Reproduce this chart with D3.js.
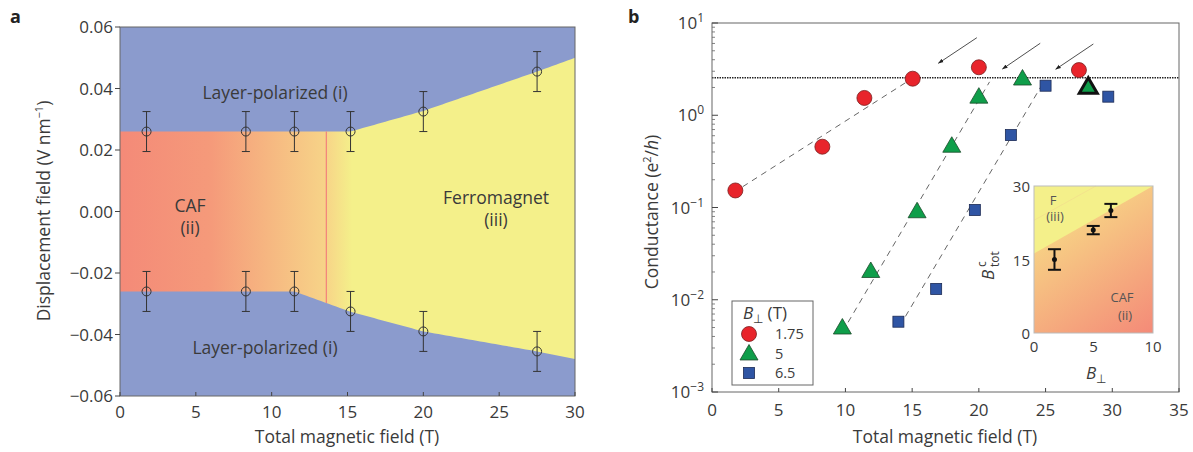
<!DOCTYPE html>
<html>
<head>
<meta charset="utf-8">
<script src="https://cdn.jsdelivr.net/npm/d3@7"></script>
<style>
  body { margin: 0; background: #fff; }
  svg text { font-family: "Open Sans", "Noto Sans", sans-serif; fill: #3a3a3a; }
</style>
</head>
<body>
<svg id="fig" width="1193" height="452"></svg>
<script>
// ---- panel a data
var aField    = [1.75, 8.3, 11.5, 15.2, 20, 27.5];
var aUpper    = [0.026, 0.026, 0.026, 0.026, 0.0325, 0.0455];
var aLower    = [-0.026, -0.026, -0.026, -0.0325, -0.039, -0.0455];
var aErr      = [0.0065, 0.0065, 0.0065, 0.0065, 0.0065, 0.0065];
var topBoundB = [0, 15.2, 20, 27.5, 30];
var topBoundD = [0.026, 0.026, 0.0327, 0.0455, 0.050];
var lowBoundB = [0, 11.5, 15.2, 20, 27.5, 30];
var lowBoundD = [-0.026, -0.026, -0.0326, -0.039, -0.0455, -0.048];
var cafEdge   = 13.6;
var aXTicks   = [0, 5, 10, 15, 20, 25, 30];
var aYTicks   = [-0.06, -0.04, -0.02, 0, 0.02, 0.04, 0.06];

// ---- panel b data
var seriesNames = ["1.75", "5", "6.5"];
var redB   = [1.75, 8.27, 11.42, 15.04, 20.0, 27.5];
var redG   = [0.153, 0.456, 1.54, 2.49, 3.31, 3.09];
var greenB = [9.77, 11.9, 15.37, 17.97, 20.0, 23.27];
var greenG = [0.005, 0.0205, 0.091, 0.467, 1.59, 2.5];
var blueB  = [13.97, 16.8, 19.7, 22.4, 25.0, 29.7];
var blueG  = [0.00578, 0.0131, 0.094, 0.61, 2.09, 1.59];
var boldTri = [28.2, 2.04];          // outlined triangle
var plateau = 2.55;                  // dotted line level
var fitRed   = [[2.3, 0.168], [14.6, 2.3]];
var fitGreen = [[10.2, 0.0057], [20.8, 2.3]];
var fitBlue  = [[14.5, 0.0066], [24.9, 2.35]];
var arrows = [[[19.85, 6.93], [16.97, 3.66]], [[24.6, 6.03], [21.77, 3.17]], [[28.58, 5.92], [25.76, 3.15]]];
var bXTicks = [0, 5, 10, 15, 20, 25, 30, 35];
var bYExp   = [-3, -2, -1, 0, 1];

// ---- inset data
var insB    = [1.72, 4.98, 6.46];
var insBc   = [15.0, 21.0, 25.0];
var insErr  = [2.1, 0.85, 1.35];
var insEdge = [[0, 16.2], [10, 30]];
var insFaint = [[0, 23], [5.2, 30]];

var svg = d3.select("#fig");
var defs = svg.append("defs");

var cBlue = "#8b9bcd", cSalmon = "#f48a78", cOrange = "#f7d488", cYellow = "#f4f08a";

// =================== panel a
var xa = d3.scaleLinear().domain([0, 30]).range([120, 575]);
var ya = d3.scaleLinear().domain([-0.06, 0.06]).range([396, 27]);

var ga = defs.append("linearGradient").attr("id", "gradA")
  .attr("gradientUnits", "userSpaceOnUse")
  .attr("x1", xa(0)).attr("x2", xa(30)).attr("y1", 0).attr("y2", 0);
ga.append("stop").attr("offset", 0).attr("stop-color", cSalmon);
ga.append("stop").attr("offset", 0.2).attr("stop-color", "#f59a7a");
ga.append("stop").attr("offset", cafEdge / 30).attr("stop-color", cOrange);
ga.append("stop").attr("offset", 15.3 / 30).attr("stop-color", cYellow);
ga.append("stop").attr("offset", 1).attr("stop-color", cYellow);

svg.append("rect").attr("x", xa(0)).attr("y", ya(0.06))
  .attr("width", xa(30) - xa(0)).attr("height", ya(-0.06) - ya(0.06)).attr("fill", cBlue);

// non-layer-polarized region between the two boundaries
var area = d3.area().x(function(d) { return xa(d[0]); })
  .y0(function(d) { return ya(d[2]); }).y1(function(d) { return ya(d[1]); });
var topInterp = d3.scaleLinear().domain(topBoundB).range(topBoundD);
var lowInterp = d3.scaleLinear().domain(lowBoundB).range(lowBoundD);
var grid = d3.range(0, 30.01, 0.25).map(function(b) { return [b, topInterp(b), lowInterp(b)]; });
svg.append("path").attr("d", area(grid)).attr("fill", "url(#gradA)");

// CAF edge line
svg.append("line").attr("x1", xa(cafEdge)).attr("x2", xa(cafEdge))
  .attr("y1", ya(topInterp(cafEdge))).attr("y2", ya(lowInterp(cafEdge)))
  .attr("stroke", "#f2707a").attr("stroke-width", 1);

// error bars + open circles
function errA(vals) {
  var g = svg.append("g");
  aField.forEach(function(b, i) {
    var x = xa(b);
    g.append("line").attr("x1", x).attr("x2", x)
      .attr("y1", ya(vals[i] + aErr[i])).attr("y2", ya(vals[i] - aErr[i]))
      .attr("stroke", "#333").attr("stroke-width", 1);
    [1, -1].forEach(function(s) {
      g.append("line").attr("x1", x - 4).attr("x2", x + 4)
        .attr("y1", ya(vals[i] + s * aErr[i])).attr("y2", ya(vals[i] + s * aErr[i]))
        .attr("stroke", "#333").attr("stroke-width", 1);
    });
    g.append("circle").attr("cx", x).attr("cy", ya(vals[i])).attr("r", 4.5)
      .attr("fill", "none").attr("stroke", "#333").attr("stroke-width", 1);
  });
}
errA(aUpper);
errA(aLower);

// frame + ticks
svg.append("rect").attr("x", xa(0)).attr("y", ya(0.06))
  .attr("width", xa(30) - xa(0)).attr("height", ya(-0.06) - ya(0.06))
  .attr("fill", "none").attr("stroke", "#666").attr("stroke-width", 1);
aXTicks.forEach(function(t) {
  svg.append("line").attr("x1", xa(t)).attr("x2", xa(t)).attr("y1", ya(-0.06)).attr("y2", ya(-0.06) - 4)
    .attr("stroke", "#444");
  svg.append("text").attr("x", xa(t)).attr("y", 418).attr("text-anchor", "middle")
    .attr("font-size", 17).text(t);
});
aYTicks.forEach(function(t) {
  svg.append("line").attr("x1", xa(0) - 5).attr("x2", xa(0)).attr("y1", ya(t)).attr("y2", ya(t))
    .attr("stroke", "#444");
  svg.append("text").attr("x", 113).attr("y", ya(t) + 6).attr("text-anchor", "end")
    .attr("font-size", 17).text(d3.format(".2f")(t).replace("-", "\u2212"));
});
svg.append("text").attr("x", 347).attr("y", 443).attr("text-anchor", "middle").attr("font-size", 17.5)
  .text("Total magnetic field (T)");
var yla = svg.append("text").attr("transform", "translate(50,211) rotate(-90)")
  .attr("text-anchor", "middle").attr("font-size", 17.5);
yla.append("tspan").text("Displacement field (V nm");
yla.append("tspan").attr("dy", -7).attr("font-size", 11).text("\u22121");
yla.append("tspan").attr("dy", 7).text(")");

function label(x, y, s, size) {
  svg.append("text").attr("x", x).attr("y", y).attr("text-anchor", "middle")
    .attr("font-size", size || 17.5).text(s);
}
label(275, 99, "Layer-polarized (i)");
label(265, 354, "Layer-polarized (i)");
label(190, 212, "CAF");
label(190, 234, "(ii)");
label(496, 204, "Ferromagnet");
label(496, 226, "(iii)");
svg.append("text").attr("x", 10).attr("y", 23).attr("font-size", 18).attr("font-weight", "bold")
  .style("fill", "#222").text("a");

// =================== panel b
var xb = d3.scaleLinear().domain([0, 35]).range([712, 1179]);
var yb = d3.scaleLog().domain([1e-3, 10]).range([392, 23]);

// inset
var xi = d3.scaleLinear().domain([0, 10]).range([1034, 1153]);
var yi = d3.scaleLinear().domain([0, 30]).range([333, 186]);
var gi = defs.append("linearGradient").attr("id", "gradI")
  .attr("gradientUnits", "userSpaceOnUse")
  .attr("x1", xi(2.5)).attr("y1", yi(26)).attr("x2", xi(10)).attr("y2", yi(0));
gi.append("stop").attr("offset", 0).attr("stop-color", "#f7d986");
gi.append("stop").attr("offset", 1).attr("stop-color", cSalmon);
svg.append("rect").attr("x", xi(0)).attr("y", yi(30)).attr("width", xi(10) - xi(0))
  .attr("height", yi(0) - yi(30)).attr("fill", "url(#gradI)");
svg.append("path")
  .attr("d", "M" + xi(0) + "," + yi(30) + "L" + xi(insEdge[1][0]) + "," + yi(insEdge[1][1]) +
    "L" + xi(insEdge[0][0]) + "," + yi(insEdge[0][1]) + "Z")
  .attr("fill", cYellow);
svg.append("line").attr("x1", xi(insFaint[0][0])).attr("y1", yi(insFaint[0][1]))
  .attr("x2", xi(insFaint[1][0])).attr("y2", yi(insFaint[1][1]))
  .attr("stroke", "#f0c890").attr("stroke-width", 0.5).attr("stroke-opacity", 0.7);
svg.append("rect").attr("x", xi(0)).attr("y", yi(30)).attr("width", xi(10) - xi(0))
  .attr("height", yi(0) - yi(30)).attr("fill", "none").attr("stroke", "#bbb").attr("stroke-width", 1);
insB.forEach(function(b, i) {
  var x = xi(b);
  svg.append("line").attr("x1", x).attr("x2", x).attr("y1", yi(insBc[i] + insErr[i]))
    .attr("y2", yi(insBc[i] - insErr[i])).attr("stroke", "#111").attr("stroke-width", 2);
  [1, -1].forEach(function(s) {
    svg.append("line").attr("x1", x - 6.5).attr("x2", x + 6.5)
      .attr("y1", yi(insBc[i] + s * insErr[i])).attr("y2", yi(insBc[i] + s * insErr[i]))
      .attr("stroke", "#111").attr("stroke-width", 2);
  });
  svg.append("circle").attr("cx", x).attr("cy", yi(insBc[i])).attr("r", 2.5).attr("fill", "#111");
});
[0, 15, 30].forEach(function(t) {
  svg.append("text").attr("x", xi(0) - 4).attr("y", yi(t) + 6).attr("text-anchor", "end")
    .attr("font-size", 15).text(t);
});
[0, 5, 10].forEach(function(t) {
  svg.append("text").attr("x", xi(t)).attr("y", 352).attr("text-anchor", "middle")
    .attr("font-size", 15).text(t);
});
var ilx = svg.append("text").attr("x", 1096).attr("y", 379).attr("text-anchor", "middle").attr("font-size", 17);
ilx.append("tspan").attr("font-style", "italic").text("B");
ilx.append("tspan").attr("dy", 4).attr("font-size", 12).text("\u22a5");
var ily = svg.append("g").attr("transform", "translate(994,280) rotate(-90)");
ily.append("text").attr("x", 0).attr("y", 0).attr("font-size", 17).attr("font-style", "italic").text("B");
ily.append("text").attr("x", 13).attr("y", -8).attr("font-size", 12).text("c");
ily.append("text").attr("x", 13).attr("y", 5).attr("font-size", 12).text("tot");
function ilabel(x, y, s) {
  svg.append("text").attr("x", x).attr("y", y).attr("text-anchor", "middle")
    .attr("font-size", 13).style("fill", "#555").text(s);
}
ilabel(1053, 205, "F");
ilabel(1055, 221, "(iii)");
ilabel(1122, 302, "CAF");
ilabel(1125, 320, "(ii)");

// dotted plateau
svg.append("line").attr("x1", xb(0)).attr("x2", xb(35)).attr("y1", yb(plateau)).attr("y2", yb(plateau))
  .attr("stroke", "#222").attr("stroke-width", 1.3).attr("stroke-dasharray", "1.5,1");

// dashed fits
[fitRed, fitGreen, fitBlue].forEach(function(f) {
  svg.append("line").attr("x1", xb(f[0][0])).attr("y1", yb(f[0][1]))
    .attr("x2", xb(f[1][0])).attr("y2", yb(f[1][1]))
    .attr("stroke", "#555").attr("stroke-width", 0.9).attr("stroke-dasharray", "6,5");
});

// arrows
defs.append("marker").attr("id", "arr").attr("viewBox", "0 0 10 10").attr("refX", 9).attr("refY", 5)
  .attr("markerWidth", 7).attr("markerHeight", 7).attr("orient", "auto")
  .append("path").attr("d", "M0,1.5L10,5L0,8.5Z").attr("fill", "#222");
arrows.forEach(function(a) {
  svg.append("line").attr("x1", xb(a[0][0])).attr("y1", yb(a[0][1]))
    .attr("x2", xb(a[1][0])).attr("y2", yb(a[1][1]))
    .attr("stroke", "#222").attr("stroke-width", 0.8).attr("marker-end", "url(#arr)");
});

// markers
var cRed = "#e8242b", cGreen = "#0f9e4a", cSq = "#2f55a4";
function circ(g, x, y) {
  g.append("circle").attr("cx", x).attr("cy", y).attr("r", 7.5)
    .attr("fill", cRed).attr("stroke", "#7a2020").attr("stroke-width", 0.8);
}
function tri(g, x, y, sw, col) {
  var s = 9;
  g.append("path").attr("d", "M" + x + "," + (y - s) + "L" + (x + s) + "," + (y + s * 0.72) +
      "L" + (x - s) + "," + (y + s * 0.72) + "Z")
    .attr("fill", cGreen).attr("stroke", col || "#1a4a2a").attr("stroke-width", sw || 0.8)
    .attr("stroke-linejoin", "miter");
}
function sq(g, x, y) {
  g.append("rect").attr("x", x - 5.5).attr("y", y - 5.5).attr("width", 11).attr("height", 11)
    .attr("fill", cSq).attr("stroke", "#1c2b55").attr("stroke-width", 0.8);
}
var gm = svg.append("g");
redB.forEach(function(b, i) { circ(gm, xb(b), yb(redG[i])); });
greenB.forEach(function(b, i) { tri(gm, xb(b), yb(greenG[i])); });
tri(gm, xb(boldTri[0]), yb(boldTri[1]), 3, "#111");
blueB.forEach(function(b, i) { sq(gm, xb(b), yb(blueG[i])); });

// frame + ticks b
svg.append("rect").attr("x", xb(0)).attr("y", yb(10)).attr("width", xb(35) - xb(0))
  .attr("height", yb(1e-3) - yb(10)).attr("fill", "none").attr("stroke", "#666").attr("stroke-width", 1);
bXTicks.forEach(function(t) {
  svg.append("line").attr("x1", xb(t)).attr("x2", xb(t)).attr("y1", yb(1e-3)).attr("y2", yb(1e-3) - 4)
    .attr("stroke", "#444");
  svg.append("text").attr("x", xb(t)).attr("y", 416).attr("text-anchor", "middle")
    .attr("font-size", 17).text(t);
});
bYExp.forEach(function(e) {
  var v = Math.pow(10, e);
  svg.append("line").attr("x1", xb(0)).attr("x2", xb(0) + 6).attr("y1", yb(v)).attr("y2", yb(v))
    .attr("stroke", "#444");
  if (e < 1) {
    d3.range(2, 10).forEach(function(m) {
      svg.append("line").attr("x1", xb(0)).attr("x2", xb(0) + 3)
        .attr("y1", yb(m * v)).attr("y2", yb(m * v)).attr("stroke", "#666").attr("stroke-width", 0.8);
    });
  }
  var t = svg.append("text").attr("x", 704).attr("y", yb(v) + 6).attr("text-anchor", "end").attr("font-size", 17);
  t.append("tspan").text("10");
  t.append("tspan").attr("dy", -7).attr("font-size", 12).text(String(e).replace("-", "\u2212"));
});
svg.append("text").attr("x", 945).attr("y", 443).attr("text-anchor", "middle").attr("font-size", 17.5)
  .text("Total magnetic field (T)");
var ylb = svg.append("text").attr("transform", "translate(658,212) rotate(-90)")
  .attr("text-anchor", "middle").attr("font-size", 17.5);
ylb.append("tspan").text("Conductance (e");
ylb.append("tspan").attr("dy", -7).attr("font-size", 11).text("2");
ylb.append("tspan").attr("dy", 7).text("/");
ylb.append("tspan").attr("font-style", "italic").text("h");
ylb.append("tspan").text(")");
svg.append("text").attr("x", 628).attr("y", 23).attr("font-size", 18).attr("font-weight", "bold")
  .style("fill", "#222").text("b");

// legend
var lg = svg.append("g");
lg.append("rect").attr("x", 732).attr("y", 301).attr("width", 81).attr("height", 84)
  .attr("fill", "#fff").attr("stroke", "#666").attr("stroke-width", 1);
var lt = lg.append("text").attr("x", 743).attr("y", 319).attr("font-size", 17);
lt.append("tspan").attr("font-style", "italic").text("B");
lt.append("tspan").attr("dy", 4).attr("font-size", 12).text("\u22a5");
lt.append("tspan").attr("dy", -4).text(" (T)");
var lgSym = [circ, function(g, x, y) { tri(g, x, y); }, sq];
seriesNames.forEach(function(n, i) {
  var y = 334 + i * 19.5;
  lgSym[i](lg, 749, y);
  lg.append("text").attr("x", 775).attr("y", y + 5).attr("font-size", 14.5).text(n);
});
</script>
</body>
</html>
